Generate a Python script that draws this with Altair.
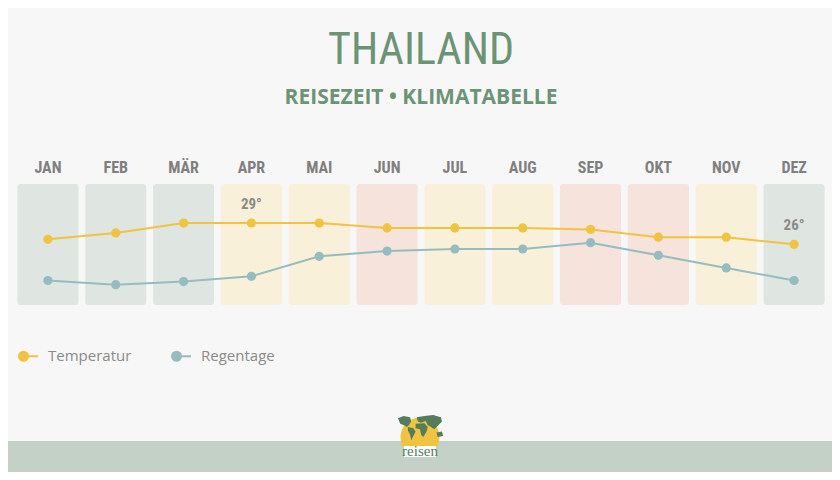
import altair as alt
import pandas as pd

# ---- data ----
months = ["JAN", "FEB", "MÄR", "APR", "MAI", "JUN", "JUL", "AUG", "SEP", "OKT", "NOV", "DEZ"]
temperatur = [26.7, 27.6, 29.0, 29.0, 29.0, 28.3, 28.3, 28.3, 28.1, 27.0, 27.0, 26.0]
regentage = [3, 1, 2.5, 5, 14.5, 17, 18, 18, 21, 15, 9, 3]
reisezeit = ["gut", "gut", "gut", "mittel", "mittel", "schlecht", "mittel", "mittel",
             "schlecht", "schlecht", "mittel", "gut"]
temp_labels = ["", "", "", "29°", "", "", "", "", "", "", "", "26°"]

df = pd.DataFrame({
    "Monat": months,
    "Temperatur": temperatur,
    "Regentage": regentage,
    "Reisezeit": reisezeit,
    "Label": temp_labels,
})

YELLOW = "#f0c340"
TEAL = "#95bdc0"
GREEN = "#6b9474"
DARKGREEN = "#557d5c"
GRAY = "#7f7f7f"
COND = ("'Roboto Condensed', 'Noto Sans Condensed', 'Open Sans Condensed', "
        "'Arial Narrow', 'Nimbus Sans Narrow', 'Open Sans', sans-serif")

x = alt.X("Monat:N", sort=months,
          scale=alt.Scale(paddingInner=0.1, paddingOuter=0.05),
          axis=alt.Axis(orient="top", title=None, ticks=False, tickSize=0, domain=False,
                        labelAngle=0, labelFont=COND, labelFontWeight="bold",
                        labelFontSize=16, labelColor=GRAY, labelPadding=12,
                        labelBaseline="alphabetic", grid=False))

base = alt.Chart(df)

boxes = base.mark_rect(cornerRadius=3).encode(
    x=x,
    fill=alt.Fill("Reisezeit:N", legend=None,
                  scale=alt.Scale(domain=["gut", "mittel", "schlecht"],
                                  range=["#dfe5e0", "#f8f0d8", "#f5e3dc"])),
)

color_scale = alt.Scale(domain=["Temperatur", "Regentage"], range=[YELLOW, TEAL])
legend = alt.Legend(
    title=None, orient="none", legendX=4, legendY=161, direction="horizontal",
    symbolType="M-1,0A0.45,0.45,0,1,0,-0.1,0A0.45,0.45,0,1,0,-1,0Z M-0.55,0L0.9,0",
    symbolSize=400, symbolStrokeWidth=2, labelFont="Open Sans", labelFontSize=15,
    labelColor="#8a8a8a", labelOffset=8, columnPadding=36,
)
color = alt.Color("Serie:N", scale=color_scale, legend=legend, sort=["Temperatur", "Regentage"])

y_temp = alt.Y("Temperatur:Q", axis=None,
               scale=alt.Scale(domain=[26, 29], range=[60.3, 39]))
y_rain = alt.Y("Regentage:Q", axis=None,
               scale=alt.Scale(domain=[1, 21], range=[100.7, 58.7]))

tbase = base.transform_calculate(Serie="'Temperatur'")
rbase = base.transform_calculate(Serie="'Regentage'")

temp_line = tbase.mark_line(strokeWidth=2).encode(x=x, y=y_temp, color=color)
temp_pts = tbase.mark_circle(size=85, opacity=1).encode(x=x, y=y_temp, color=color)
temp_txt = base.transform_filter("datum.Label != ''").mark_text(
    font=COND, fontWeight="bold", fontSize=15, color="#8a8a8a", dy=-19, baseline="middle"
).encode(x=x, y=y_temp, text="Label:N")

rain_line = rbase.mark_line(strokeWidth=2).encode(x=x, y=y_rain, color=color)
rain_pts = rbase.mark_circle(size=85, opacity=1).encode(x=x, y=y_rain, color=color)

# footer band and logo (decoration)
one = pd.DataFrame({"a": [0]})
footer = alt.Chart(one).mark_rect(color="#c3d1c6").encode(
    x=alt.value(-6), x2=alt.value(818), y=alt.value(257), y2=alt.value(290))
logo_circle = alt.Chart(one).mark_circle(
    color=YELLOW, opacity=1, size=1520).encode(x=alt.value(406), y=alt.value(253))
WORLD = (
    "M-1,-0.85L-0.75,-0.95L-0.45,-0.9L-0.4,-0.7L-0.5,-0.55L-0.6,-0.45L-0.75,-0.55L-0.9,-0.6Z"
    "M-0.55,-0.45L-0.3,-0.4L-0.2,-0.25L-0.3,-0.05L-0.4,0.15L-0.45,-0.1L-0.55,-0.3Z"
    "M-0.15,-0.9L0.2,-0.95L0.3,-0.75L0.05,-0.65L-0.1,-0.7Z"
    "M-0.2,-0.6L0.2,-0.62L0.35,-0.45L0.3,-0.25L0.15,0L0.05,-0.1L0,-0.35L-0.2,-0.4Z"
    "M0.2,-0.95L0.6,-1L0.95,-0.9L1,-0.7L0.8,-0.5L0.65,-0.35L0.5,-0.45L0.35,-0.55L0.25,-0.75Z"
    "M0.75,-0.2L1,-0.25L1.05,-0.05L0.8,0Z"
)
globe = alt.Chart(one).mark_point(
    shape=WORLD, filled=True, color=DARKGREEN, opacity=1, size=1936, strokeWidth=0
).encode(x=alt.value(406), y=alt.value(253))
logo_box = alt.Chart(one).mark_rect(color="white").encode(
    x=alt.value(390), x2=alt.value(422), y=alt.value(262), y2=alt.value(273))
logo_txt = alt.Chart(pd.DataFrame({"t": ["reisen"]})).mark_text(
    font="Liberation Serif", fontSize=15, color=DARKGREEN,
    baseline="middle").encode(x=alt.value(406), y=alt.value(267), text="t:N")

chart = alt.layer(
    boxes, temp_line, temp_pts, temp_txt, rain_line, rain_pts,
    footer, logo_circle, globe, logo_box, logo_txt,
).resolve_scale(y="independent").properties(
    width=814, height=121,
    autosize=alt.AutoSizeParams(type="none"),
    padding={"left": 6, "right": 4, "top": 176, "bottom": 167},
    background="#f7f7f7",
    title=alt.TitleParams(
        text="THAILAND", subtitle="REISEZEIT • KLIMATABELLE", anchor="middle",
        font=COND,
        fontSize=44, fontWeight="normal", color=GREEN,
        subtitleFont="'Open Sans', sans-serif", subtitleFontSize=21,
        subtitleFontWeight="bold", subtitleColor=GREEN, subtitlePadding=14,
        offset=51),
).configure_view(stroke=None)

chart.save("out.html", embed_options={"renderer": "svg", "actions": False})
